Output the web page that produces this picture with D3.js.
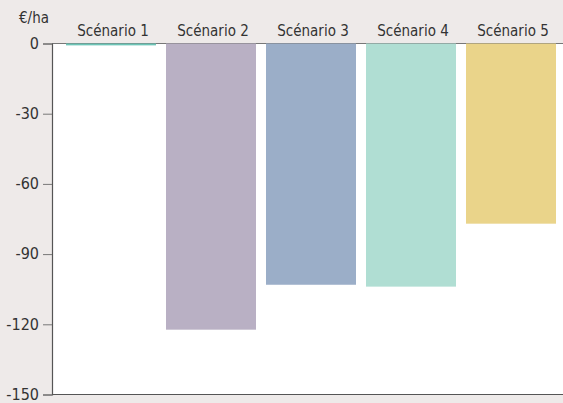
<!DOCTYPE html>
<html>
<head>
<meta charset="utf-8">
<script src="https://cdn.jsdelivr.net/npm/d3@7"></script>
<style>
  body { margin: 0; background: #eeeae9; }
  svg { display: block; }
  text { font-family: "DejaVu Sans Condensed", "Liberation Sans Narrow", "Liberation Sans", sans-serif; font-stretch: condensed; fill: #333; }
</style>
</head>
<body>
<script>
var categories = ["Scénario 1", "Scénario 2", "Scénario 3", "Scénario 4", "Scénario 5"];
var values = [-0.8, -122.3, -103.1, -103.9, -77.0];
var colors = ["#6cc4b6", "#b9b0c4", "#9baec8", "#b0ded3", "#ead48a"];
var yTicks = [0, -30, -60, -90, -120, -150];
var unitLabel = "€/ha";

var width = 563, height = 403;
var margin = {top: 43.5, right: 0, bottom: 8.5, left: 52};

var svg = d3.select("body").append("svg")
    .attr("width", width)
    .attr("height", height);

var x = d3.scaleBand()
    .domain(categories)
    .range([61, 561])
    .paddingInner(0.1)
    .paddingOuter(0.05);

var y = d3.scaleLinear()
    .domain([0, -150])
    .range([margin.top, height - margin.bottom]);

// white plot area
svg.append("rect")
    .attr("x", margin.left)
    .attr("y", y(0))
    .attr("width", width - margin.left)
    .attr("height", y(-150) - y(0))
    .attr("fill", "#fff");

// zero line
svg.append("line")
    .attr("x1", margin.left)
    .attr("x2", width)
    .attr("y1", y(0))
    .attr("y2", y(0))
    .attr("stroke", "#777")
    .attr("stroke-width", 1);

svg.selectAll(".bar")
    .data(values)
    .enter().append("rect")
    .attr("class", "bar")
    .attr("x", function(d, i) { return x(categories[i]); })
    .attr("y", y(0))
    .attr("width", x.bandwidth())
    .attr("height", function(d) { return Math.max(1.5, y(d) - y(0)); })
    .attr("fill", function(d, i) { return colors[i]; });

var yAxis = d3.axisLeft(y)
    .tickValues(yTicks)
    .tickFormat(function(d) { return String(d); })
    .tickSize(9)
    .tickPadding(4);

var gy = svg.append("g")
    .attr("transform", "translate(" + margin.left + ",0)")
    .call(yAxis);
gy.select(".domain").attr("stroke", "#555").attr("stroke-width", 1.2);
gy.selectAll(".tick line").attr("stroke", "#777");
gy.selectAll(".tick text")
    .style("font-size", "16px")
    .attr("dy", "0.3em")
    .attr("fill", "#333");

// bottom line
svg.append("line")
    .attr("x1", margin.left)
    .attr("x2", width)
    .attr("y1", y(-150))
    .attr("y2", y(-150))
    .attr("stroke", "#555")
    .attr("stroke-width", 1.2);

svg.selectAll(".cat")
    .data(categories)
    .enter().append("text")
    .attr("class", "cat")
    .attr("x", function(d) { return x(d) + x.bandwidth() / 2 + 2; })
    .attr("y", 36)
    .attr("text-anchor", "middle")
    .style("font-size", "15px")
    .text(function(d) { return d; });

svg.append("text")
    .attr("x", 34)
    .attr("y", 23)
    .attr("text-anchor", "middle")
    .style("font-size", "15px")
    .text(unitLabel);
</script>
</body>
</html>
